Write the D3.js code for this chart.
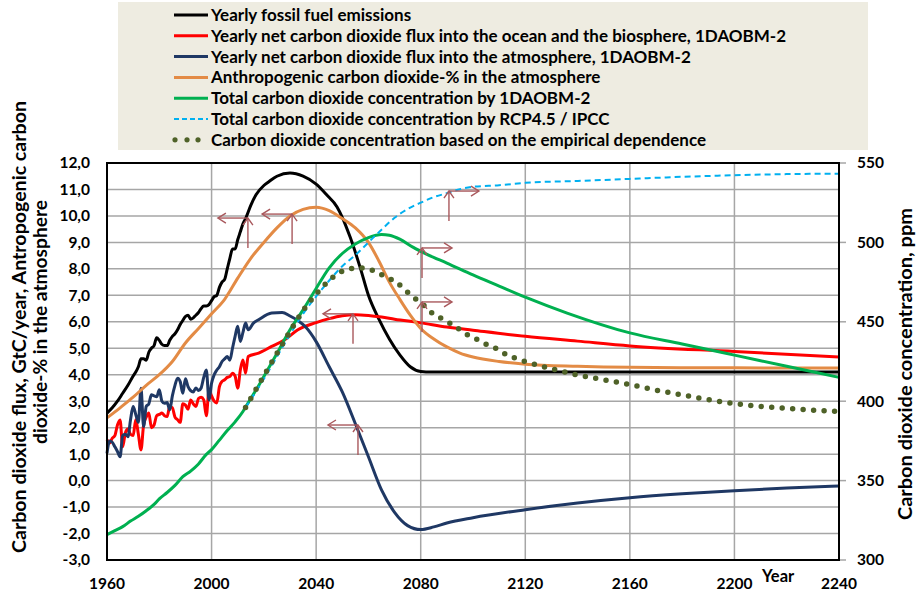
<!DOCTYPE html>
<html><head><meta charset="utf-8">
<script src="https://cdn.jsdelivr.net/npm/d3@7"></script>
<style>
body{margin:0;background:#fff;}
svg{display:block;font-family:Lato,'Open Sans',sans-serif;font-weight:bold;}
</style>
</head><body>
<svg id="chart" width="916" height="595"></svg>
<script>
// ---------------- DATA ----------------
const xTickYears = [1960, 2000, 2040, 2080, 2120, 2160, 2200, 2240];
const leftTicks = [-3, -2, -1, 0, 1, 2, 3, 4, 5, 6, 7, 8, 9, 10, 11, 12];
const rightTicks = [300, 350, 400, 450, 500, 550];

const legendLabels = [
  "Yearly fossil fuel emissions",
  "Yearly net carbon dioxide flux into the ocean and the biosphere, 1DAOBM-2",
  "Yearly net carbon dioxide flux into the atmosphere, 1DAOBM-2",
  "Anthropogenic carbon dioxide-% in the atmosphere",
  "Total carbon dioxide concentration by 1DAOBM-2",
  "Total carbon dioxide concentration by RCP4.5 / IPCC",
  "Carbon dioxide concentration based on the empirical dependence"
];

// Yearly fossil fuel emissions (GtC/year, left axis)
const fossilYears = [1960,1962,1964,1966,1968,1970,1971,1972,1973,1974,1975,1976,1977,1978,1979,1980,1981,1982,1983,1984,1985,1986,1987,1988,1989,1990,1991,1992,1993,1994,1995,1996,1997,1998,1999,2000,2001,2002,2003,2004,2005,2006,2007,2008,2009,2010,2011,2012,2013,2015,2017,2020,2022,2025,2030,2035,2040,2044,2048,2050,2053,2057,2060,2064,2068,2072,2076,2080,2084,2120,2160,2200,2240];
const fossilValues = [2.55,2.75,3.0,3.3,3.6,3.95,4.1,4.3,4.6,4.6,4.55,4.85,5.0,5.1,5.4,5.3,5.15,5.1,5.1,5.3,5.45,5.55,5.7,5.9,6.05,6.2,6.25,6.1,6.15,6.25,6.35,6.5,6.6,6.6,6.65,6.8,6.95,7.0,7.3,7.5,7.6,8.0,8.4,8.75,8.75,9.1,9.4,9.7,9.9,10.4,10.8,11.15,11.3,11.5,11.62,11.5,11.2,10.8,10.34,9.95,9.2,8.0,7.0,6.1,5.35,4.75,4.3,4.12,4.1,4.1,4.1,4.1,4.1];

// Net flux into ocean and biosphere (left axis)
const oceanYears = [1960,1961,1962,1963,1964,1965,1966,1967,1968,1969,1970,1971,1972,1973,1974,1975,1976,1977,1978,1979,1980,1981,1982,1983,1984,1985,1986,1987,1988,1989,1990,1991,1992,1993,1994,1995,1996,1997,1998,1999,2000,2001,2002,2003,2004,2005,2006,2007,2008,2009,2010,2011,2012,2013,2014,2018,2023,2028,2033,2040,2045,2050,2055,2060,2065,2070,2080,2090,2100,2120,2140,2160,2200,2240];
const oceanValues = [1.54,1.42,1.6,1.7,2.1,2.29,1.28,1.8,1.95,1.75,1.7,2.3,1.75,1.16,2.1,2.4,2.55,2.0,2.1,2.45,2.5,2.55,2.45,2.42,2.8,2.75,2.4,2.3,2.2,2.9,2.85,2.7,3.05,2.9,2.8,3.1,3.15,3.05,2.45,3.4,3.2,3.0,2.93,3.55,3.75,3.81,3.9,3.93,4.06,3.95,3.49,4.18,4.56,4.06,4.69,4.82,5.07,5.32,5.7,5.97,6.12,6.23,6.27,6.24,6.18,6.1,5.96,5.8,5.68,5.45,5.27,5.09,4.88,4.67];

// Net flux into the atmosphere (left axis)
const atmosYears = [1960,1961,1962,1963,1964,1965,1966,1967,1968,1969,1970,1971,1972,1973,1974,1975,1976,1977,1978,1979,1980,1981,1982,1983,1984,1985,1986,1987,1988,1989,1990,1991,1992,1993,1994,1995,1996,1997,1998,1999,2000,2001,2002,2003,2004,2005,2006,2007,2008,2009,2010,2011,2012,2013,2014,2016,2018,2023,2027,2030,2033,2036,2040,2045,2050,2055,2060,2065,2070,2075,2080,2085,2090,2100,2120,2140,2160,2180,2200,2220,2240];
const atmosValues = [1.03,1.5,1.45,1.28,1.1,0.9,1.7,1.75,1.66,2.3,2.8,2.5,2.2,3.49,2.04,2.8,2.9,3.24,3.2,3.17,3.43,3.0,2.92,2.95,2.67,3.2,3.6,3.87,3.74,3.3,3.85,3.55,3.4,3.35,3.5,3.4,3.5,3.9,4.18,3.05,3.68,4.0,4.18,4.3,4.5,4.6,4.69,4.55,5.0,5.45,5.83,5.26,5.6,5.95,5.7,5.95,6.08,6.33,6.35,6.22,6.05,5.8,5.25,4.3,3.35,2.15,0.9,-0.35,-1.2,-1.7,-1.85,-1.75,-1.6,-1.4,-1.1,-0.85,-0.65,-0.5,-0.38,-0.28,-0.2];

// Anthropogenic CO2-% in the atmosphere (left axis)
const anthroYears = [1960,1965,1970,1975,1980,1985,1990,1995,2000,2005,2010,2015,2020,2025,2030,2035,2040,2045,2050,2055,2060,2064,2068,2072,2076,2080,2085,2090,2095,2100,2110,2120,2140,2160,2200,2240];
const anthroValues = [2.37,2.75,3.15,3.6,4.0,4.5,5.2,5.75,6.3,6.85,7.65,8.4,9.0,9.55,10.0,10.25,10.33,10.2,9.9,9.55,9.0,8.3,7.5,6.85,6.25,5.75,5.35,5.05,4.82,4.67,4.5,4.4,4.32,4.28,4.26,4.25];

// Total CO2 concentration by 1DAOBM-2 (ppm, right axis)
const modelYears = [1960,1963,1966,1969,1972,1975,1978,1980,1983,1986,1989,1992,1995,1998,2000,2003,2006,2009,2012,2014,2017,2020,2025,2030,2035,2040,2045,2050,2055,2060,2065,2068,2072,2077,2083,2090,2100,2110,2120,2136,2160,2180,2200,2220,2240];
const modelPpm = [316,318.5,321,324.5,327.5,331,335,338.5,342.5,347,352.5,356,360.5,366.5,369.5,375.5,381.5,387,393.5,399,407,415.5,430,445,457.5,471,484,493,499,503,505,504.5,502,497,492,487,479.5,472.5,465.5,455.5,443,436,429,422,415];

// Total CO2 concentration by RCP4.5 / IPCC (ppm, right axis)
const rcpYears = [2013,2020,2025,2030,2035,2040,2045,2050,2055,2060,2065,2070,2075,2080,2085,2090,2095,2100,2110,2120,2140,2160,2180,2200,2220,2240];
const rcpPpm = [396,414,428,442,455,466,476,485,492,500,508,515.5,521,525,528.5,531,533.5,535,536,537.5,538.7,540,541.3,542.3,543,543.3];

// CO2 concentration based on the empirical dependence (ppm, right axis)
const empYears = [2013,2020,2025,2030,2035,2040,2044,2048,2052,2056,2060,2064,2067,2071,2074,2077,2081,2084,2087,2091,2095,2098,2102,2106,2110,2113,2117,2120,2130,2140,2150,2160,2170,2180,2190,2200,2220,2240];
const empPpm = [396,416,430,444,457,467.5,474.5,480,483,484,483.3,480.5,478,474.5,470,465.7,460.7,456,453,449.3,445,441.7,438.5,435,432.3,429,426.7,425,420.5,416.5,413.5,410.5,407,404,401,398.5,395.5,393.5];

// Annotation arrows: curve point (year, value on left-axis units), pointing to left or right axis
const arrowYears = [2013.9, 2030.8, 2054.1, 2056, 2090.8, 2080.5, 2080.5];
const arrowValues = [9.92, 10.07, 6.3, 2.1, 10.94, 8.79, 6.75];
const arrowDirs = ["left", "left", "left", "left", "right", "right", "right"];

// ---------------- CHART ----------------
const svg = d3.select("#chart");
const x = d3.scaleLinear().domain([1960, 2240]).range([107, 839]);
const yL = d3.scaleLinear().domain([-3, 12]).range([560, 163]);
const yR = d3.scaleLinear().domain([300, 550]).range([560, 163]);
const fmt = v => v.toFixed(1).replace(".", ",");

// legend background
svg.append("rect").attr("x", 118).attr("y", 2).attr("width", 750).attr("height", 148).attr("fill", "#eeece1");

// plot background
svg.append("rect").attr("x", x(1960)).attr("y", yL(12)).attr("width", x(2240) - x(1960)).attr("height", yL(-3) - yL(12)).attr("fill", "#fff");

// gridlines
const grid = svg.append("g").attr("stroke", "#a6a6a6").attr("stroke-width", 1.5);
grid.selectAll("line.h").data(leftTicks.filter(t => t > -3 && t < 12)).join("line")
  .attr("x1", x(1960)).attr("x2", x(2240)).attr("y1", d => yL(d)).attr("y2", d => yL(d));
grid.selectAll("line.v").data(xTickYears.filter(t => t > 1960 && t < 2240)).join("line")
  .attr("y1", yL(12)).attr("y2", yL(-3)).attr("x1", d => x(d)).attr("x2", d => x(d));

// right axis tick marks
grid.selectAll("line.rt").data(rightTicks).join("line")
  .attr("x1", x(2240)).attr("x2", x(2240) + 7).attr("y1", d => yR(d)).attr("y2", d => yR(d));

// series
const lineL = d3.line().x(d => x(d[0])).y(d => yL(d[1])).curve(d3.curveMonotoneX);
const lineR = d3.line().x(d => x(d[0])).y(d => yR(d[1])).curve(d3.curveMonotoneX);
const zip = (a, b) => a.map((v, i) => [v, b[i]]);

const series = [
  {d: zip(fossilYears, fossilValues), gen: lineL, color: "#000000", w: 3},
  {d: zip(oceanYears, oceanValues), gen: lineL, color: "#ff0000", w: 3},
  {d: zip(atmosYears, atmosValues), gen: lineL, color: "#1f3864", w: 3},
  {d: zip(anthroYears, anthroValues), gen: lineL, color: "#e38b45", w: 3},
  {d: zip(modelYears, modelPpm), gen: lineR, color: "#00b050", w: 3},
  {d: zip(rcpYears, rcpPpm), gen: lineR, color: "#00b0f0", w: 2, dash: "6,4"},
  {d: zip(empYears, empPpm), gen: lineR, color: "#4f6228", w: 5.5, dash: "0,10.5", cap: "round"}
];
series.forEach(s => {
  svg.append("path").attr("d", s.gen(s.d)).attr("fill", "none")
    .attr("stroke", s.color).attr("stroke-width", s.w)
    .attr("stroke-linejoin", "round")
    .attr("stroke-linecap", s.cap || "butt")
    .attr("stroke-dasharray", s.dash || null);
});

// annotation arrows
const ac = "#a9585c";
const ag = svg.append("g").attr("stroke", ac).attr("stroke-width", 1.4).attr("fill", "none");
arrowYears.forEach((yr, i) => {
  const px = x(yr), py = yL(arrowValues[i]);
  const dir = arrowDirs[i] === "left" ? -1 : 1;
  const hx = px + dir * 30;
  ag.append("line").attr("x1", px).attr("y1", py + 30).attr("x2", px).attr("y2", py);
  ag.append("path").attr("d", `M${px - 5},${py + 7}L${px},${py}L${px + 5},${py + 7}`);
  ag.append("line").attr("x1", px).attr("y1", py).attr("x2", hx).attr("y2", py);
  ag.append("path").attr("d", `M${hx - dir * 8},${py - 5}L${hx},${py}L${hx - dir * 8},${py + 5}`);
});

// plot frame
svg.append("rect").attr("x", x(1960)).attr("y", yL(12)).attr("width", x(2240) - x(1960)).attr("height", yL(-3) - yL(12))
  .attr("fill", "none").attr("stroke", "#000").attr("stroke-width", 2);

// left tick labels
svg.append("g").selectAll("text").data(leftTicks).join("text")
  .attr("x", 90).attr("y", d => yL(d)).attr("dy", "0.35em").attr("text-anchor", "end")
  .attr("font-size", 15.5).attr("fill", "#000").text(fmt);

// right tick labels
svg.append("g").selectAll("text").data(rightTicks).join("text")
  .attr("x", 857).attr("y", d => yR(d)).attr("dy", "0.35em").attr("text-anchor", "start")
  .attr("font-size", 15.5).attr("fill", "#000").text(d => d);

// bottom tick labels
svg.append("g").selectAll("text").data(xTickYears).join("text")
  .attr("x", d => x(d)).attr("y", 589).attr("text-anchor", "middle")
  .attr("font-size", 15.5).attr("fill", "#000").text(d => d);

svg.append("text").attr("x", 762).attr("y", 582).attr("font-size", 16.5).text("Year");

// axis titles
svg.append("text").attr("transform", "translate(26,327) rotate(-90)").attr("text-anchor", "middle")
  .attr("font-size", 18.5).attr("textLength", 452).attr("lengthAdjust", "spacingAndGlyphs")
  .text("Carbon dioxide flux, GtC/year, Antropogenic carbon");
svg.append("text").attr("transform", "translate(47,322) rotate(-90)").attr("text-anchor", "middle")
  .attr("font-size", 18.5).attr("textLength", 244).attr("lengthAdjust", "spacingAndGlyphs")
  .text("dioxide-% in the atmosphere");
svg.append("text").attr("transform", "translate(912,364) rotate(-90)").attr("text-anchor", "middle")
  .attr("font-size", 18.5).attr("textLength", 312).attr("lengthAdjust", "spacingAndGlyphs")
  .text("Carbon dioxide concentration, ppm");

// legend
const leg = svg.append("g");
legendLabels.forEach((lab, i) => {
  const cy = 15 + i * 20.8;
  const s = series[i];
  if (i === 6) {
    [175, 187, 198].forEach(cx => leg.append("circle").attr("cx", cx).attr("cy", cy).attr("r", 2.6).attr("fill", s.color));
  } else {
    leg.append("line").attr("x1", 174).attr("x2", 208).attr("y1", cy).attr("y2", cy)
      .attr("stroke", s.color).attr("stroke-width", i === 5 ? 2 : 3)
      .attr("stroke-dasharray", i === 5 ? "5,3" : null);
  }
  leg.append("text").attr("x", 211).attr("y", cy).attr("dy", "0.35em").attr("font-size", 17).text(lab);
});
</script>
</body></html>
